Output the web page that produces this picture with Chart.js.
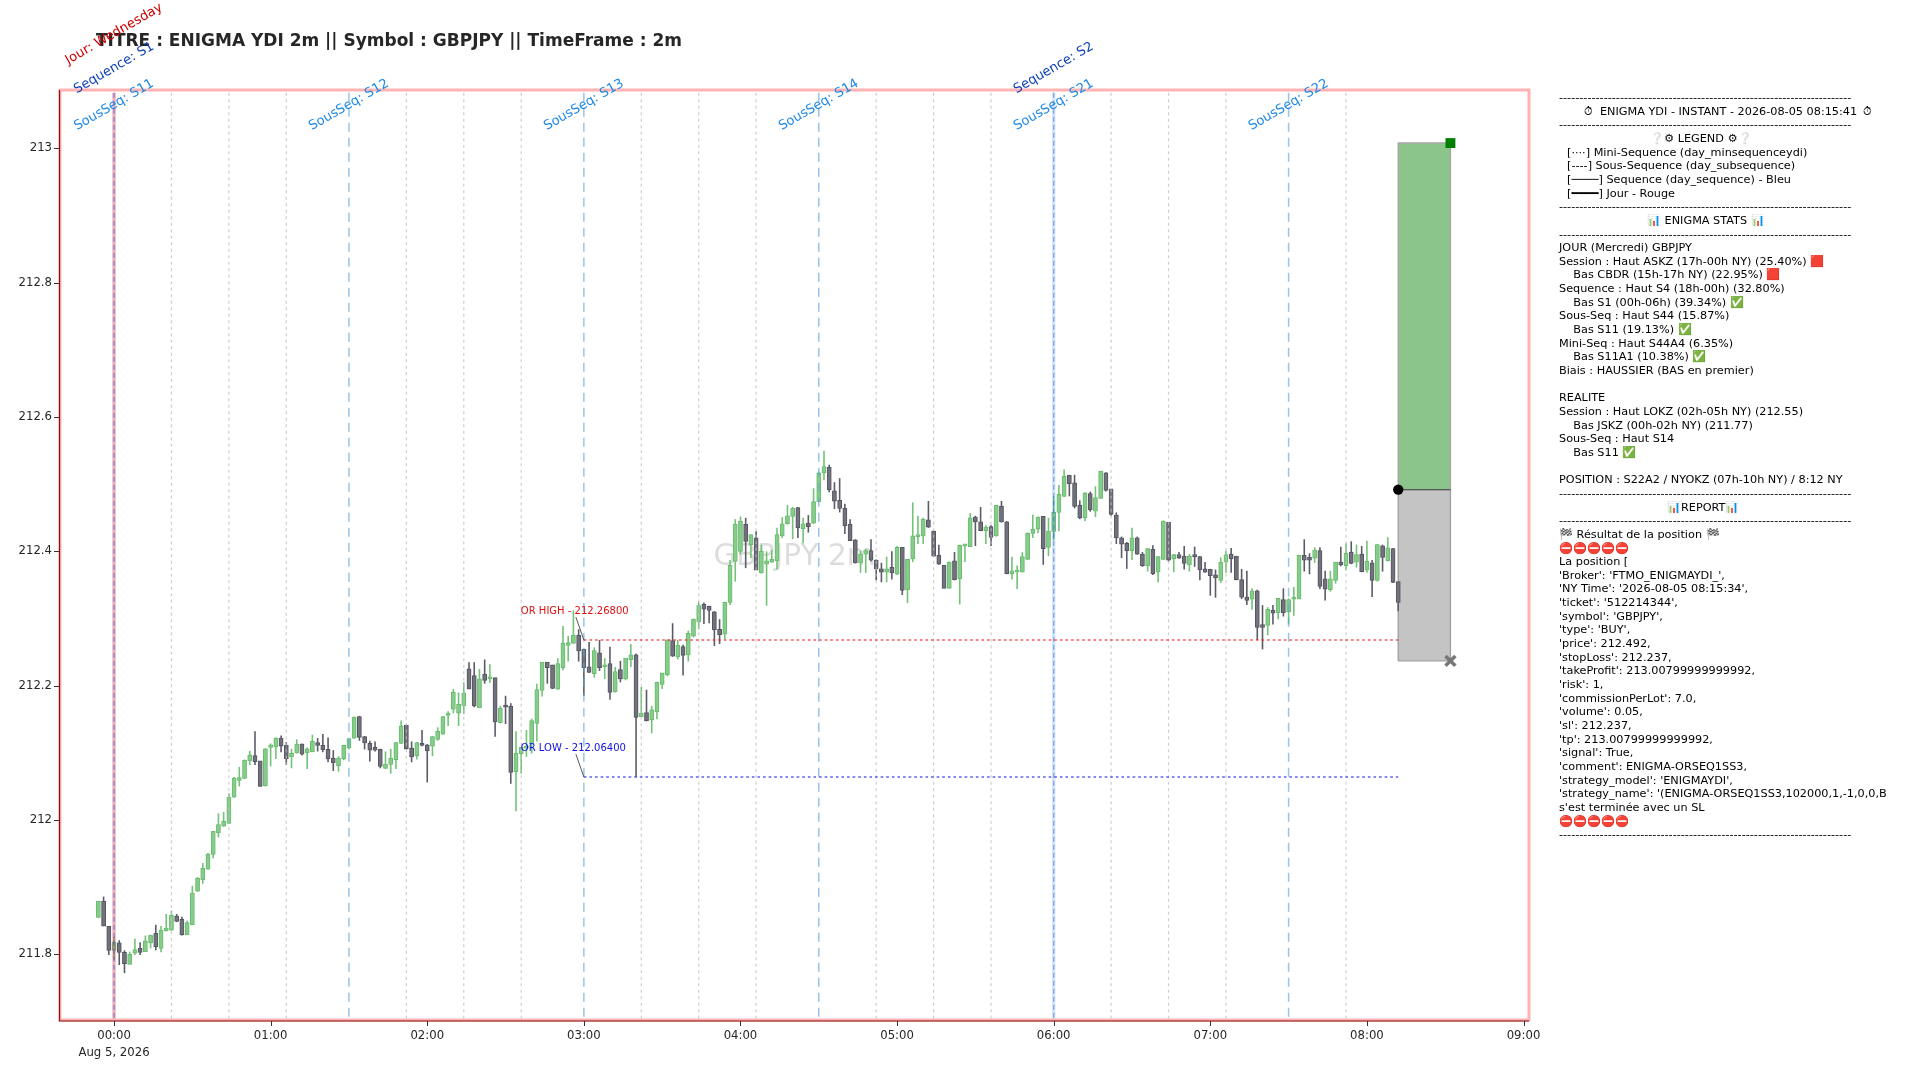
<!DOCTYPE html>
<html><head><meta charset="utf-8">
<script src="https://cdn.jsdelivr.net/npm/chart.js@4"></script>
<style>
html,body{margin:0;padding:0;background:#fff;width:1920px;height:1080px;overflow:hidden}
#c{position:absolute;left:0;top:0}
#side{position:absolute;left:0;top:0;width:1886px;height:1080px;overflow:hidden;pointer-events:none;font-family:"DejaVu Sans";font-size:11.25px;color:#000}
#side div{position:absolute;white-space:pre;line-height:14px}
</style></head><body>
<canvas id="c" width="1920" height="1080"></canvas>
<div id="side"></div>
<script>
const titleText = "TITRE : ENIGMA YDI 2m || Symbol : GBPJPY || TimeFrame : 2m";
const watermark = "GBPJPY 2m";
const startMinute = -6, stepMinutes = 2;
const opens = [211.855,211.879,211.842,211.806,211.817,211.803,211.785,211.802,211.809,211.804,
211.817,211.831,211.809,211.835,211.836,211.857,211.852,211.829,211.844,211.894,
211.911,211.927,211.949,211.981,211.991,211.995,212.034,212.059,212.062,212.088,
212.096,212.088,212.051,212.108,212.109,212.122,212.111,212.094,212.100,212.113,
212.100,212.102,212.115,212.111,212.105,212.092,212.081,212.091,212.107,212.122,
212.154,212.124,212.114,212.108,212.105,212.077,212.083,212.090,212.114,212.141,
212.107,212.096,212.114,212.112,212.110,212.120,212.128,212.156,212.165,212.159,
212.170,212.225,212.215,212.167,212.217,212.210,212.212,212.145,212.170,212.169,
212.072,212.099,212.107,212.114,212.144,212.193,212.235,212.231,212.195,212.227,
212.260,212.263,212.275,212.254,212.228,212.218,212.249,212.228,212.233,212.191,
212.224,212.210,212.239,212.246,212.154,212.160,212.149,212.161,212.202,212.216,
212.267,212.243,212.258,212.246,212.274,212.295,212.321,212.318,212.310,212.284,
212.277,212.324,212.385,212.400,212.440,212.410,212.420,212.368,212.381,212.384,
212.386,212.423,212.441,212.452,212.465,212.434,212.442,212.442,212.474,212.517,
212.525,212.490,212.476,212.464,212.440,212.417,212.383,212.396,212.401,212.387,
212.374,212.369,212.376,212.366,212.406,212.343,212.389,212.422,212.423,212.447,
212.430,212.394,212.379,212.345,212.386,212.359,212.408,212.407,212.451,212.444,
212.431,212.437,212.423,212.467,212.444,212.367,212.369,212.369,212.388,212.427,
212.433,212.452,212.406,212.430,212.458,212.482,212.513,212.502,212.469,212.450,
212.486,212.460,212.479,212.517,212.493,212.454,212.420,212.412,212.401,212.420,
212.396,212.379,212.403,212.369,212.388,212.443,212.389,212.395,212.393,212.380,
212.393,212.392,212.374,212.373,212.365,212.357,212.384,212.396,212.393,212.358,
212.332,212.329,212.341,212.291,212.290,212.312,212.309,212.328,212.310,212.329,
212.329,212.394,212.391,212.390,212.401,212.359,212.343,212.357,212.384,212.379,
212.399,212.384,212.396,212.372,212.383,212.357,212.408,212.386,212.404,212.355];
const highs = [211.879,211.886,211.842,211.826,211.821,211.806,211.804,211.823,211.818,211.828,
211.829,211.844,211.842,211.860,211.865,211.860,211.856,211.850,211.902,211.915,
211.936,211.951,211.983,212.010,212.012,212.040,212.064,212.079,212.090,212.103,
212.132,212.088,212.107,212.114,212.123,212.126,212.116,212.106,212.120,212.114,
212.108,212.127,212.122,212.128,212.123,212.104,212.095,212.112,212.121,212.154,
212.155,212.125,212.118,212.117,212.106,212.102,212.106,212.116,212.148,212.142,
212.117,212.116,212.134,212.113,212.125,212.138,212.155,212.162,212.195,212.190,
212.205,212.235,212.235,212.225,212.239,212.232,212.212,212.170,212.185,212.174,
212.132,212.108,212.134,212.151,212.203,212.235,212.235,212.231,212.241,212.289,
212.274,212.312,212.284,212.254,212.265,212.257,212.268,212.241,212.258,212.228,
212.237,212.241,212.262,212.248,212.198,212.194,212.170,212.206,212.219,212.269,
212.293,212.268,212.261,212.282,212.300,212.325,212.324,212.319,212.311,212.299,
212.325,212.387,212.448,212.452,212.450,212.425,212.430,212.410,212.400,212.402,
212.435,212.451,212.469,212.466,212.466,212.450,212.454,212.494,212.519,212.550,
212.529,212.503,212.509,212.471,212.448,212.418,212.401,212.404,212.418,212.388,
212.383,212.392,212.400,212.408,212.406,212.388,212.473,212.453,212.450,212.475,
212.431,212.410,212.379,212.385,212.399,212.410,212.411,212.457,212.453,212.466,
212.439,212.439,212.469,212.475,212.445,212.392,212.379,212.399,212.428,212.455,
212.452,212.452,212.450,212.482,212.499,212.522,212.514,212.514,212.476,212.488,
212.489,212.497,212.520,212.518,212.493,212.458,212.422,212.414,212.435,212.422,
212.399,212.405,212.409,212.393,212.446,212.443,212.396,212.399,212.408,212.396,
212.407,212.393,212.384,212.374,212.373,212.391,212.401,212.405,212.393,212.374,
212.371,212.345,212.343,212.320,212.317,212.320,212.330,212.345,212.330,212.347,
212.395,212.418,212.397,212.406,212.406,212.371,212.371,212.384,212.407,212.412,
212.415,212.410,212.408,212.416,212.387,212.411,212.410,212.421,212.405,212.355];
const lows = [211.854,211.842,211.799,211.792,211.784,211.772,211.785,211.799,211.799,211.804,
211.809,211.806,211.803,211.834,211.835,211.848,211.828,211.829,211.844,211.893,
211.905,211.926,211.943,211.974,211.990,211.994,212.033,212.050,212.061,212.082,
212.082,212.050,212.050,212.080,212.091,212.101,212.082,212.077,212.099,212.096,
212.076,212.101,212.102,212.101,212.086,212.073,212.072,212.089,212.105,212.121,
212.118,212.105,212.087,212.102,212.077,212.076,212.069,212.076,212.113,212.105,
212.086,212.090,212.110,212.056,212.095,212.118,212.127,212.140,212.159,212.140,
212.158,212.195,212.168,212.167,212.203,212.204,212.124,212.144,212.143,212.054,
212.013,212.069,212.094,212.099,212.117,212.184,212.203,212.195,212.194,212.223,
212.236,212.263,212.236,212.185,212.219,212.212,212.222,212.210,212.179,212.190,
212.205,212.208,212.228,212.064,212.154,212.147,212.129,212.150,212.195,212.214,
212.243,212.239,212.215,212.236,212.272,212.284,212.292,212.293,212.259,212.262,
212.269,212.320,212.355,212.395,212.375,212.390,212.390,212.367,212.319,212.383,
212.373,212.420,212.440,212.418,212.420,212.412,212.428,212.441,212.474,212.506,
212.488,212.463,212.458,212.426,212.416,212.382,212.368,212.368,212.385,212.357,
212.354,212.354,212.358,212.365,212.335,212.323,212.384,212.411,212.411,212.435,
212.392,212.380,212.345,212.345,212.357,212.321,212.384,212.407,212.408,212.430,
212.411,212.408,212.422,212.443,212.366,212.358,212.344,212.369,212.387,212.420,
212.427,212.380,212.393,212.417,212.430,212.481,212.482,212.464,212.448,212.445,
212.459,212.451,212.478,212.489,212.453,212.411,212.390,212.374,212.387,212.395,
212.377,212.370,212.365,212.354,212.387,212.385,212.369,212.389,212.373,212.370,
212.377,212.357,212.368,212.334,212.331,212.353,212.368,212.368,212.357,212.329,
212.320,212.313,212.268,212.254,212.275,212.291,212.299,212.303,212.291,212.304,
212.329,212.370,212.366,212.383,212.344,212.327,212.340,212.352,212.378,212.372,
212.381,212.376,212.369,212.368,212.332,212.355,212.370,212.385,212.353,212.311];
const closes = [211.879,211.842,211.806,211.818,211.803,211.786,211.800,211.807,211.803,211.820,
211.828,211.811,211.836,211.839,211.858,211.849,211.829,211.847,211.891,211.913,
211.928,211.949,211.983,211.993,211.998,212.034,212.062,212.063,212.089,212.097,
212.087,212.050,212.106,212.112,212.122,212.110,212.091,212.099,212.113,212.098,
212.106,212.117,212.111,212.105,212.091,212.085,212.092,212.111,212.121,212.153,
212.123,212.115,212.104,212.104,212.080,212.083,212.092,212.115,212.140,212.106,
212.094,212.115,212.111,212.103,212.124,212.132,212.154,212.159,212.190,212.172,
212.189,212.195,212.170,212.210,212.208,212.212,212.146,212.166,212.168,212.071,
212.099,212.108,212.109,212.148,212.194,212.235,212.227,212.196,212.233,212.263,
212.264,212.275,212.252,212.227,212.220,212.252,212.227,212.230,212.190,212.221,
212.210,212.241,212.246,212.153,212.159,212.148,212.164,212.205,212.219,212.268,
212.244,212.260,212.245,212.278,212.299,212.319,212.314,212.312,212.283,212.276,
212.324,212.379,212.440,212.445,212.415,212.425,212.372,212.400,212.386,212.388,
212.425,212.441,212.453,212.464,212.435,212.441,212.437,212.474,212.517,212.526,
212.492,212.475,212.464,212.438,212.416,212.383,212.396,212.401,212.387,212.374,
212.369,212.374,212.368,212.406,212.342,212.388,212.423,212.425,212.448,212.436,
212.393,212.381,212.345,212.384,212.358,212.409,212.410,212.450,212.444,212.431,
212.436,212.421,212.469,212.444,212.367,212.371,212.370,212.392,212.427,212.433,
212.451,212.404,212.430,212.458,212.485,212.512,212.501,212.467,212.450,212.487,
212.462,212.480,212.519,212.491,212.455,212.420,212.411,212.401,212.420,212.396,
212.379,212.404,212.367,212.392,212.445,212.387,212.395,212.390,212.382,212.393,
212.392,212.373,212.369,212.364,212.361,212.384,212.395,212.389,212.358,212.332,
212.327,212.341,212.287,212.287,212.314,212.308,212.330,212.309,212.328,212.332,
212.394,212.387,212.387,212.402,212.348,212.344,212.359,212.384,212.380,212.397,
212.382,212.395,212.370,212.385,212.357,212.410,212.391,212.405,212.354,212.324];

const miniSeqMinutes = [22,44,66,112,134,156,202,224,246,292,314,336,382,404,426,472];
const subSeqMinutes = [90,180,270,450];
const seqMinutes = [0,360];
const dayMinutes = [0];
const subSeqLabels = ["SousSeq: S11","SousSeq: S12","SousSeq: S13","SousSeq: S14","SousSeq: S21","SousSeq: S22"];
const subSeqLabelMinutes = [0,90,180,270,360,450];
const seqLabels = ["Sequence: S1","Sequence: S2"];
const dayLabels = ["Jour: Wednesday"];
const orHigh = 212.268, orLow = 212.064, orStart = 180, orEnd = 492;
const entry = 212.492, takeProfit = 213.008, stopLoss = 212.237, posStart = 492, posEnd = 512;
const xTicks = [0,60,120,180,240,300,360,420,480,540];
const yTicks = [211.8,212,212.2,212.4,212.6,212.8,213];
const xMin = -20.7, xMax = 542.1, yMin = 211.7022, yMax = 213.087;

const times = opens.map((_, i) => startMinute + i * stepMinutes);
const isUp = i => closes[i] >= opens[i];
const vline = (m, color, width, dash, order) => ({type:'line', data:[{x:m,y:yMax-0.004},{x:m,y:yMin}], borderColor:color, borderWidth:width, borderDash:dash, pointRadius:0, order, fill:false, tension:0});
const box = (top, bot, fillC, edge, order) => ({type:'line', data:[{x:posStart,y:bot},{x:posStart,y:top},{x:posEnd,y:top},{x:posEnd,y:bot},{x:posStart,y:bot}], fill:'shape', backgroundColor:fillC, borderColor:edge, borderWidth:1.4, pointRadius:0, tension:0, order});
const marker = (x, y, style, color, r, bw, order) => ({type:'scatter', data:[{x,y}], pointStyle:style, pointRadius:r, pointBackgroundColor:color, pointBorderColor:color, pointBorderWidth:bw, order});

const datasets = [
  {type:'bar', data:times.map((t,i)=>({x:t,y:[lows[i],highs[i]]})), backgroundColor:times.map((_,i)=>isUp(i)?'#72c277':'#5b5b68'), borderWidth:0, barThickness:1.6, grouped:false, order:20, inflateAmount:0},
  {type:'bar', data:times.map((t,i)=>({x:t,y:[opens[i],closes[i]]})), backgroundColor:times.map((_,i)=>isUp(i)?'#86cc8a':'#72727e'), borderColor:times.map((_,i)=>isUp(i)?'#6abb6f':'#55555f'), borderWidth:1, borderSkipped:false, barThickness:4, minBarLength:2, inflateAmount:0.4, grouped:false, order:19},
  ...miniSeqMinutes.map(m=>vline(m,'rgba(190,190,190,0.75)',1.2,[3,3.5],12)),
  ...subSeqMinutes.map(m=>vline(m,'rgba(95,165,220,0.65)',1.5,[9,6],11)),
  vline(360,'rgba(70,130,240,0.22)',3.4,[],10),
  vline(360,'rgba(30,110,210,0.5)',1.3,[5,3],9),
  vline(0,'rgba(205,40,80,0.36)',3.4,[],10),
  vline(0,'rgba(60,80,200,0.5)',1.4,[5,3],9),
  {type:'line', data:[{x:orStart,y:orHigh},{x:orEnd,y:orHigh}], borderColor:'rgba(240,30,30,0.75)', borderWidth:1.4, borderDash:[2.6,3], pointRadius:0, order:8},
  {type:'line', data:[{x:orStart,y:orLow},{x:orEnd,y:orLow}], borderColor:'rgba(40,40,240,0.75)', borderWidth:1.4, borderDash:[2.6,3], pointRadius:0, order:8},
  box(takeProfit, entry, '#8cc58c', '#a6a6a6', 25),
  box(entry, stopLoss, '#c4c4c4', '#a2a2a2', 25),
  {type:'line', data:[{x:posStart,y:entry},{x:posEnd,y:entry}], borderColor:'#555', borderWidth:1.2, pointRadius:0, order:5},
  marker(posStart, entry, 'circle', '#000', 5.2, 0, 3),
  marker(posEnd, takeProfit, 'rect', '#008000', 7, 0, 3),
  marker(posEnd, stopLoss, 'crossRot', '#777', 7, 3.5, 3),
];

const overlay = {
  id:'overlay',
  beforeDatasetsDraw(ch){
    const {ctx, chartArea:a} = ch;
    ctx.save();
    ctx.fillStyle='rgba(150,150,150,0.32)';
    ctx.font='29.6px "DejaVu Sans"';
    ctx.textAlign='center'; ctx.textBaseline='middle';
    ctx.fillText(watermark,(a.left+a.right)/2,(a.top+a.bottom)/2+2.4);
    ctx.restore();
  },
  afterDatasetsDraw(ch){
    const {ctx, chartArea:a, scales:{x,y}} = ch;
    ctx.save();
    // spines
    ctx.strokeStyle='#ffb3b3'; ctx.lineWidth=3;
    ctx.strokeRect(a.left,a.top,a.right-a.left,a.bottom-a.top);
    ctx.strokeStyle='#8a0d0d'; ctx.lineWidth=1.2;
    ctx.beginPath(); ctx.moveTo(a.left-0.5,a.top); ctx.lineTo(a.left-0.5,a.bottom+1); ctx.lineTo(a.right,a.bottom+1); ctx.stroke();
    // tick marks
    ctx.strokeStyle='#333'; ctx.lineWidth=1;
    ctx.beginPath();
    xTicks.forEach(v=>{const p=Math.round(x.getPixelForValue(v))+0.5;ctx.moveTo(p,a.bottom+1);ctx.lineTo(p,a.bottom+6);});
    yTicks.forEach(v=>{const p=Math.round(y.getPixelForValue(v))+0.5;ctx.moveTo(a.left-1,p);ctx.lineTo(a.left-6,p);});
    ctx.stroke();
    // title
    ctx.fillStyle='#262626'; ctx.font='bold 17px "DejaVu Sans"';
    ctx.textAlign='left'; ctx.textBaseline='middle';
    ctx.fillText(titleText,96,41.5);
    // rotated labels
    const rot=(txt,m,py,col)=>{ctx.save();ctx.translate(x.getPixelForValue(m),py);ctx.rotate(-Math.PI/6);ctx.textAlign='center';ctx.textBaseline='middle';ctx.fillStyle=col;ctx.font='13.1px "DejaVu Sans"';ctx.fillText(txt,0,0);ctx.restore();};
    subSeqLabels.forEach((t,i)=>rot(t,subSeqLabelMinutes[i],105,'#1e88e5'));
    seqLabels.forEach((t,i)=>rot(t,seqMinutes[i],68,'#0d3fb8'));
    dayLabels.forEach((t,i)=>rot(t,dayMinutes[i],34,'#cc0000'));
    // OR annotations
    const ann=(txt,val,col)=>{const px=x.getPixelForValue(orStart),py=y.getPixelForValue(val);
      ctx.strokeStyle='#444';ctx.lineWidth=0.9;ctx.beginPath();ctx.moveTo(px-8,py-23);ctx.lineTo(px,py);ctx.stroke();
      ctx.fillStyle=col;ctx.font='10px "DejaVu Sans"';ctx.textAlign='left';ctx.textBaseline='middle';ctx.fillText(txt,px-63,py-29);};
    ann('OR HIGH - '+orHigh.toFixed(5),orHigh,'#e01010');
    ann('OR LOW - '+orLow.toFixed(5),orLow,'#1010e0');
    ctx.restore();
  }
};

const fmtX = v => { const h=Math.floor(v/60); return String(h).padStart(2,'0')+':00'; };
new Chart(document.getElementById('c'),{
  type:'bar',
  data:{datasets},
  plugins:[overlay],
  options:{
    responsive:false, animation:false, devicePixelRatio:1,
    layout:{padding:{left:0,top:90,right:391,bottom:0}},
    plugins:{legend:{display:false},title:{display:false},tooltip:{enabled:false}},
    scales:{
      x:{type:'linear',min:xMin,max:xMax,offset:false,
        afterBuildTicks:s=>{s.ticks=xTicks.map(v=>({value:v}));},
        afterFit:s=>{s.height=60;},
        grid:{display:false,drawTicks:true,tickLength:5},
        border:{display:false},
        ticks:{autoSkip:false,maxRotation:0,color:'#262626',padding:3,font:{family:'"DejaVu Sans"',size:11.7,lineHeight:1.42},
          callback:v=> v===0?[fmtX(v),'Aug 5, 2026']:fmtX(v)}},
      y:{type:'linear',min:yMin,max:yMax,
        afterBuildTicks:s=>{s.ticks=yTicks.map(v=>({value:v}));},
        afterFit:s=>{s.width=60;},
        grid:{display:false,drawTicks:true,tickLength:5},
        border:{display:false},
        ticks:{color:'#262626',padding:3,font:{family:'"DejaVu Sans"',size:11.7},callback:v=>String(+v.toFixed(1))}}
    }
  }
});

const dashes = "------------------------------------------------------------------------";
const sideLines = [
 [98,1559,dashes],[112,1584,"⏱\u2009\u200A ENIGMA YDI - INSTANT - 2026-08-05 08:15:41 \u2009⏱"],[125,1559,dashes],
 [139,1650,"❔⚙ LEGEND ⚙❔"],[153,1567,"[····] Mini-Sequence (day_minsequenceydi)"],[166,1567,"[----] Sous-Sequence (day_subsequence)"],
 [180,1567,"[────] Sequence (day_sequence) - Bleu"],[194,1567,"[━━━━] Jour - Rouge"],[207,1559,dashes],
 [221,1647,"📊 ENIGMA STATS 📊"],[235,1559,dashes],[248,1559,"JOUR (Mercredi) GBPJPY"],
 [262,1559,"Session : Haut ASKZ (17h-00h NY) (25.40%) 🟥"],[275,1559,"    Bas CBDR (15h-17h NY) (22.95%) 🟥"],
 [289,1559,"Sequence : Haut S4 (18h-00h) (32.80%)"],[303,1559,"    Bas S1 (00h-06h) (39.34%) ✅"],
 [316,1559,"Sous-Seq : Haut S44 (15.87%)"],[330,1559,"    Bas S11 (19.13%) ✅"],
 [344,1559,"Mini-Seq : Haut S44A4 (6.35%)"],[357,1559,"    Bas S11A1 (10.38%) ✅"],[371,1559,"Biais : HAUSSIER (BAS en premier)"],
 [398,1559,"REALITE"],[412,1559,"Session : Haut LOKZ (02h-05h NY) (212.55)"],[426,1559,"    Bas JSKZ (00h-02h NY) (211.77)"],
 [439,1559,"Sous-Seq : Haut S14"],[453,1559,"    Bas S11 ✅"],[480,1559,"POSITION : S22A2 / NYOKZ (07h-10h NY) / 8:12 NY"],
 [494,1559,dashes],[508,1667,"📊REPORT📊"],[521,1559,dashes],[535,1559,"🏁 Résultat de la position 🏁"],
 [549,1559,"⛔⛔⛔⛔⛔"],[562,1559,"La position ["],[576,1559,"'Broker': 'FTMO_ENIGMAYDI_',"],
 [589,1559,"'NY Time': '2026-08-05 08:15:34',"],[603,1559,"'ticket': '512214344',"],[617,1559,"'symbol': 'GBPJPY',"],
 [630,1559,"'type': 'BUY',"],[644,1559,"'price': 212.492,"],[658,1559,"'stopLoss': 212.237,"],[671,1559,"'takeProfit': 213.00799999999992,"],
 [685,1559,"'risk': 1,"],[699,1559,"'commissionPerLot': 7.0,"],[712,1559,"'volume': 0.05,"],[726,1559,"'sl': 212.237,"],
 [740,1559,"'tp': 213.00799999999992,"],[753,1559,"'signal': True,"],[767,1559,"'comment': ENIGMA-ORSEQ1SS3,"],
 [781,1559,"'strategy_model': 'ENIGMAYDI',"],[794,1559,"'strategy_name': '(ENIGMA-ORSEQ1SS3,102000,1,-1,0,0,BUY)',"],
 [808,1559,"s'est terminée avec un SL"],[822,1559,"⛔⛔⛔⛔⛔"],[835,1559,dashes]
];
const side=document.getElementById('side');
sideLines.forEach(([y,x,t])=>{const d=document.createElement('div');d.textContent=t;d.style.left=x+'px';d.style.top=(y-7)+'px';side.appendChild(d);});
</script>
</body></html>
